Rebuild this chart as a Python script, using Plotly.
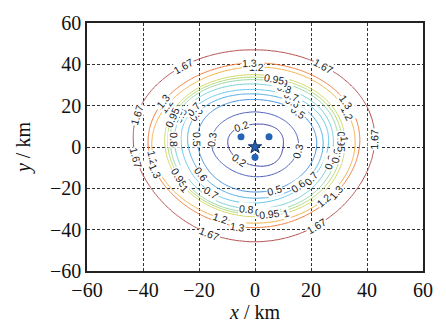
import numpy as np
import plotly.graph_objects as go

# Contour levels drawn on the map
levels = [0.2, 0.3, 0.5, 0.6, 0.7, 0.8, 0.9, 0.95, 1.0, 1.2, 1.3, 1.67]

# Radius (km) at which each level is crossed, along eight bearings from the origin
bearings_deg = [0, 45, 90, 135, 180, 225, 270, 315]
r_e = [10.1, 15.5, 22.0, 24.3, 26.1, 27.9, 29.6, 31.0, 32.1, 35.7, 37.3, 42.5]
r_ne = [11.7, 16.5, 23.0, 25.5, 28.0, 30.0, 32.0, 33.2, 34.3, 37.8, 39.8, 45.6]
r_n = [11.1, 17.0, 23.0, 25.7, 27.8, 30.5, 32.6, 33.8, 35.0, 38.7, 40.7, 47.0]
r_nw = [11.0, 16.8, 23.0, 26.5, 28.8, 31.2, 32.8, 33.8, 34.8, 37.5, 39.8, 46.4]
r_w = [9.5, 15.5, 20.3, 23.8, 26.2, 28.6, 30.1, 31.1, 32.1, 36.9, 38.1, 43.2]
r_sw = [8.5, 14.0, 20.5, 23.5, 26.5, 28.8, 30.4, 31.3, 32.2, 36.0, 37.5, 42.8]
r_s = [9.1, 14.4, 21.8, 24.8, 27.1, 30.0, 31.6, 32.6, 33.8, 36.8, 39.0, 45.8]
r_se = [10.4, 14.8, 21.5, 24.4, 25.5, 28.5, 30.5, 31.8, 33.0, 35.4, 36.8, 42.5]

# Field value at the origin and far outside the outermost contour
z_center = 0.1
z_far, r_far = 4.0, 120.0

# Bearings (deg) where each level carries an inline label
label_bearings = {
    0.2: [115, 228],
    0.3: [167, 353],
    0.5: [170, 48, 289],
    0.6: [214, 143, 58, 309],
    0.7: [140, 62, 235, 323],
    0.8: [150, 70, 173, 264, 345],
    0.9: [152, 74, 275, 352, 206],
    0.95: [154, 78, 209, 279, 4],
    1.0: [219, 289, 7],
    1.2: [89, 148, 188, 26, 250, 314],
    1.3: [93, 146, 198, 34, 261, 323],
    1.67: [123, 58, 160, 187, 5, 249, 300],
}

# Stations and array centre (km)
station_x = [-5.0, 5.0, 0.0]
station_y = [5.0, 5.0, -5.0]
centre_x = [0.0]
centre_y = [0.0]

# Colours of the contour lines, one per level
line_colors = ["#4446a8", "#4a5cbc", "#4290dc", "#4eacE6", "#62c6ec", "#74d0d6",
               "#94d6a6", "#b2d874", "#cfd85e", "#f5b044", "#f07a3c", "#b24a4a"]

# Plot-area geometry (px), used to orient the inline labels along the lines
margin = dict(l=87, r=23, t=14, b=45)
fig_w, fig_h = 446, 327
px_per_km_x = (fig_w - margin["l"] - margin["r"]) / 120.0
px_per_km_y = (fig_h - margin["t"] - margin["b"]) / 120.0


def periodic_interp(samples, theta):
    """Smooth trigonometric interpolation of equally spaced bearing samples."""
    samples = np.asarray(samples, dtype=float)
    theta = np.asarray(theta, dtype=float)
    n = len(samples)
    coef = np.fft.rfft(samples) / n
    out = np.full(theta.shape, coef[0].real)
    for k in range(1, len(coef)):
        w = 1.0 if (n % 2 == 0 and k == n // 2) else 2.0
        out = out + w * (coef[k].real * np.cos(k * theta) - coef[k].imag * np.sin(k * theta))
    return out


xs = np.linspace(-60, 60, 241)
ys = np.linspace(-60, 60, 241)
X, Y = np.meshgrid(xs, ys)
R = np.hypot(X, Y)
TH = np.arctan2(Y, X)

table = np.array([r_e, r_ne, r_n, r_nw, r_w, r_sw, r_s, r_se])
radius_fields = [periodic_interp(table[:, j], TH) for j in range(len(levels))]
Rs = np.stack([np.zeros_like(R)] + radius_fields + [np.full_like(R, r_far)])
Vs = np.array([z_center] + levels + [z_far])

idx = np.clip(np.sum(Rs[1:-1] <= R[None], axis=0), 0, len(levels))
r0 = np.take_along_axis(Rs, idx[None], 0)[0]
r1 = np.take_along_axis(Rs, (idx + 1)[None], 0)[0]
t = np.clip((R - r0) / (r1 - r0), 0, 1)
Z = Vs[idx] + t * (Vs[idx + 1] - Vs[idx])

fig = go.Figure()
for lv, col in zip(levels, line_colors):
    fig.add_trace(go.Contour(
        x=xs, y=ys, z=Z,
        autocontour=False,
        contours=dict(start=lv, end=lv, size=1, coloring="lines", showlabels=False),
        colorscale=[[0, col], [1, col]],
        line=dict(width=1),
        showscale=False, hoverinfo="skip",
    ))


def contour_point(j, theta):
    r = periodic_interp(table[:, j], np.array([theta]))[0]
    return r * np.cos(theta), r * np.sin(theta)


# Inline level labels, rotated along their contour
annotations = []
for j, lv in enumerate(levels):
    for b in label_bearings[lv]:
        th = np.radians(b)
        x0, y0 = contour_point(j, th)
        xa, ya = contour_point(j, th - 0.02)
        xb, yb = contour_point(j, th + 0.02)
        dxp = (xb - xa) * px_per_km_x
        dyp = -(yb - ya) * px_per_km_y
        ang = np.degrees(np.arctan2(dyp, dxp))
        if ang > 90:
            ang -= 180
        elif ang <= -90:
            ang += 180
        annotations.append(dict(
            x=x0, y=y0, xref="x", yref="y", text=f"{lv:g}", showarrow=False,
            textangle=float(ang), bgcolor="white", borderpad=0,
            font=dict(family="Liberation Sans", size=10.5, color="#222"),
        ))

fig.add_trace(go.Scatter(
    x=station_x, y=station_y, mode="markers",
    marker=dict(size=7, color="#2563b4"), showlegend=False,
))
fig.add_trace(go.Scatter(
    x=centre_x, y=centre_y, mode="markers",
    marker=dict(size=10, symbol="star", color="#2860b0",
                line=dict(color="#0f2c5c", width=1)),
    showlegend=False,
))

serif = "Liberation Serif, Times New Roman, serif"
axis_common = dict(
    range=[-60, 60], dtick=20, tick0=-60,
    showgrid=True, gridcolor="#333", gridwidth=1, griddash="3px,2px",
    showline=True, linecolor="#222", linewidth=1.5, mirror=True,
    zeroline=False, ticks="",
    tickfont=dict(family=serif, size=20, color="#111"),
)

fig.update_layout(
    width=fig_w, height=fig_h,
    margin=margin,
    paper_bgcolor="white", plot_bgcolor="white",
    showlegend=False,
    annotations=annotations,
    xaxis=dict(**axis_common, title=dict(text="<i>x</i> / km", standoff=0,
                                         font=dict(family=serif, size=20, color="#111"))),
    yaxis=dict(**axis_common, title=dict(text="<i>y</i> / km", standoff=14,
                                         font=dict(family=serif, size=20, color="#111"))),
)

fig.write_html("out.html")
